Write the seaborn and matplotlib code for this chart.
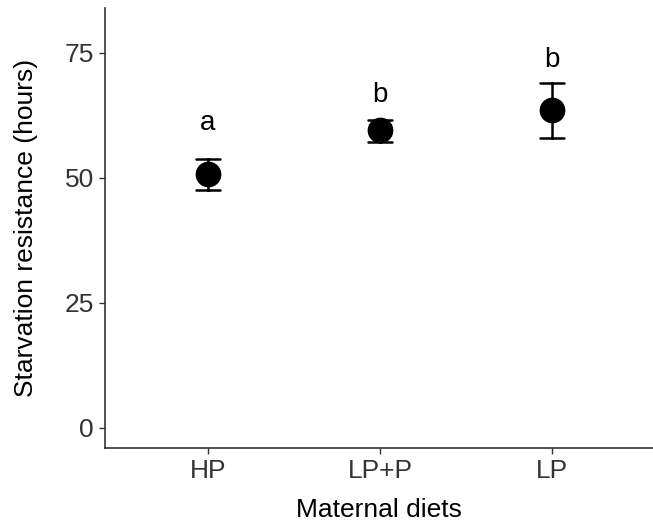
import numpy as np
import pandas as pd
import seaborn as sns
import matplotlib.pyplot as plt

diets = ["HP", "LP+P", "LP"]
means = [50.7, 59.5, 63.6]
lower = [47.6, 57.2, 58.0]
upper = [53.8, 61.6, 69.0]
letters = ["a", "b", "b"]
letter_y = [61.0, 66.6, 73.6]

sns.set_style("white")
plt.rcParams["font.family"] = ["Liberation Sans", "DejaVu Sans"]

# three rows per diet: lower end, mean, upper end -> median and min/max
df = pd.DataFrame({
    "diet": np.repeat(diets, 3),
    "hours": np.ravel(np.column_stack([lower, means, upper])),
})

fig = plt.figure(figsize=(6.53, 5.22), dpi=100)
ax = fig.add_axes([0.1608, 0.1418, 0.8392, 0.8429])

sns.pointplot(data=df, x="diet", y="hours", order=diets,
              estimator="median", errorbar=lambda v: (v.min(), v.max()),
              linestyle="none", color="black", markersize=16.5,
              capsize=0.14, err_kws={"linewidth": 1.8}, ax=ax)

for i, (lab, y) in enumerate(zip(letters, letter_y)):
    ax.text(i, y, lab, ha="center", va="center", fontsize=20, color="black")

ax.set_xlim(-0.599, 2.587)
ax.set_ylim(-4, 84)
ax.set_yticks([0, 25, 50, 75])
ax.set_xlabel("Maternal diets", fontsize=19, color="black", labelpad=11)
ax.set_ylabel("Starvation resistance (hours)", fontsize=19, color="black", labelpad=19)
ax.tick_params(axis="both", labelsize=19, colors="#333333", length=4,
               width=1, direction="out", left=True, bottom=True, pad=4)
for s in ["top", "right"]:
    ax.spines[s].set_visible(False)
for s in ["left", "bottom"]:
    ax.spines[s].set_color("#333333")
    ax.spines[s].set_linewidth(1.2)

fig.savefig("out.png", dpi=100)
